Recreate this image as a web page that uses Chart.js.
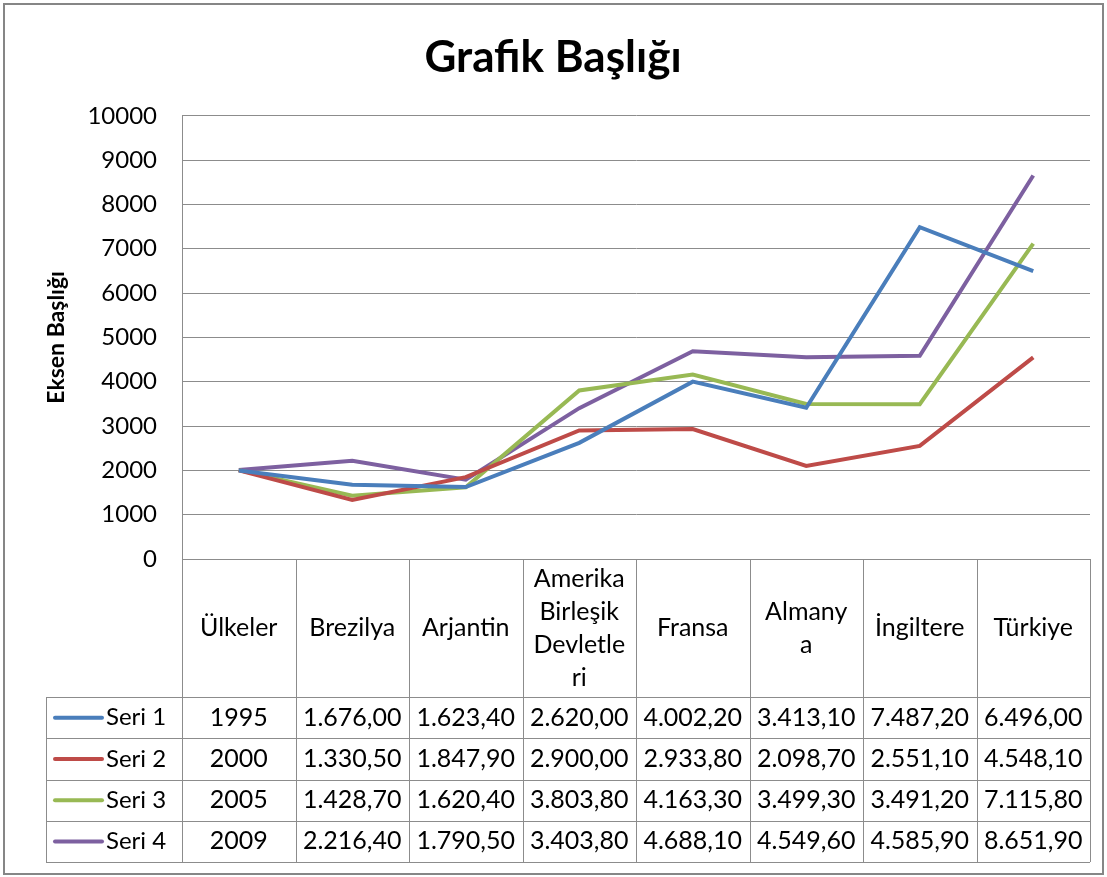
<!DOCTYPE html>
<html>
<head>
<meta charset="utf-8">
<script src="https://cdn.jsdelivr.net/npm/chart.js@4"></script>
<style>
	body { margin: 0; background: #fff; }
</style>
</head>
<body>
<canvas id="myChart" width="1107" height="877"></canvas>
<script>
const categories = ['Ülkeler', 'Brezilya', 'Arjantin', 'Amerika Birleşik Devletleri', 'Fransa', 'Almanya', 'İngiltere', 'Türkiye'];
// header cells wrapped the way the spreadsheet wraps them
const headerLines = [['Ülkeler'], ['Brezilya'], ['Arjantin'], ['Amerika', 'Birleşik', 'Devletle', 'ri'], ['Fransa'], ['Almany', 'a'], ['İngiltere'], ['Türkiye']];
const seriesNames = ['Seri 1', 'Seri 2', 'Seri 3', 'Seri 4'];
const seri1 = [1995, 1676.00, 1623.40, 2620.00, 4002.20, 3413.10, 7487.20, 6496.00];
const seri2 = [2000, 1330.50, 1847.90, 2900.00, 2933.80, 2098.70, 2551.10, 4548.10];
const seri3 = [2005, 1428.70, 1620.40, 3803.80, 4163.30, 3499.30, 3491.20, 7115.80];
const seri4 = [2009, 2216.40, 1790.50, 3403.80, 4688.10, 4549.60, 4585.90, 8651.90];
const allSeries = [seri1, seri2, seri3, seri4];
const colors = ['#4A7EBB', '#BE4B48', '#98B954', '#7D60A0'];
const yMin = 0, yMax = 10000, yStep = 1000;

const FONT = 'Lato';
const gridColor = '#8c8c8c';

function trNum(v, i) {
	if (i === 0) return String(v);
	const parts = v.toFixed(2).split('.');
	return parts[0].replace(/\B(?=(\d{3})+(?!\d))/g, '.') + ',' + parts[1];
}

const frame = {
	id: 'frame',
	beforeDraw(chart) {
		const ctx = chart.ctx;
		ctx.save();
		ctx.fillStyle = '#fff';
		ctx.fillRect(0, 0, chart.width, chart.height);
		ctx.strokeStyle = '#868686';
		ctx.lineWidth = 2;
		ctx.strokeRect(4, 4, 1099, 870);
		ctx.restore();
	}
};

const dataTable = {
	id: 'dataTable',
	afterDraw(chart) {
		const ctx = chart.ctx;
		const xs = chart.scales.x;
		const area = chart.chartArea;
		const colW = (area.right - area.left) / categories.length;
		const top = Math.round(area.bottom);
		const headH = 138;
		const rowH = 41.25;
		const legLeft = 46;
		const bottom = top + headH + rowH * allSeries.length;

		ctx.save();
		ctx.strokeStyle = gridColor;
		ctx.lineWidth = 1;
		ctx.beginPath();
		// vertical lines
		for (let i = 0; i <= categories.length; i++) {
			const x = Math.round(area.left + i * colW) + 0.5;
			ctx.moveTo(x, top);
			ctx.lineTo(x, bottom);
		}
		ctx.moveTo(legLeft + 0.5, top + headH);
		ctx.lineTo(legLeft + 0.5, bottom);
		// horizontal lines
		ctx.moveTo(area.left, top + 0.5);
		ctx.lineTo(area.right, top + 0.5);
		for (let r = 0; r <= allSeries.length; r++) {
			const y = Math.round(top + headH + r * rowH) + 0.5;
			ctx.moveTo(legLeft, y);
			ctx.lineTo(area.right, y);
		}
		ctx.stroke();

		ctx.fillStyle = '#000';
		ctx.textAlign = 'center';
		ctx.textBaseline = 'middle';
		ctx.font = '25px ' + FONT;
		// header
		const lh = 33;
		headerLines.forEach((lines, i) => {
			const cx = xs.getPixelForValue(i);
			const y0 = top + headH / 2 - (lines.length - 1) * lh / 2;
			lines.forEach((t, k) => ctx.fillText(t, cx, y0 + k * lh));
		});
		// rows
		allSeries.forEach((vals, r) => {
			const cy = top + headH + r * rowH + rowH / 2;
			vals.forEach((v, i) => {
				ctx.fillText(trNum(v, i), xs.getPixelForValue(i), cy);
			});
			ctx.strokeStyle = colors[r];
			ctx.lineWidth = 4;
			ctx.lineCap = 'round';
			ctx.beginPath();
			ctx.moveTo(55, cy);
			ctx.lineTo(102, cy);
			ctx.stroke();
			ctx.textAlign = 'left';
			ctx.font = '24px ' + FONT;
			ctx.fillText(seriesNames[r], 106, cy);
			ctx.font = '25px ' + FONT;
			ctx.textAlign = 'center';
		});
		ctx.restore();
	}
};

const ctx = document.getElementById('myChart').getContext('2d');
const myChart = new Chart(ctx, {
	type: 'line',
	data: {
		labels: categories,
		datasets: allSeries.map((vals, i) => ({
			label: seriesNames[i],
			data: vals,
			borderColor: colors[i],
			backgroundColor: colors[i],
			borderWidth: 4,
			pointRadius: 0,
			tension: 0,
			fill: false,
		}))
	},
	options: {
		responsive: false,
		animation: false,
		devicePixelRatio: 1,
		layout: {
			padding: { left: 16, right: 17, top: 0, bottom: 318 }
		},
		plugins: {
			legend: { display: false },
			tooltip: { enabled: false },
			title: {
				display: true,
				text: 'Grafik Başlığı',
				color: '#000',
				font: { family: FONT, size: 44, weight: 'bold' },
				padding: { top: 31, bottom: 32 }
			}
		},
		scales: {
			x: {
				display: false,
				offset: true,
			},
			y: {
				min: yMin,
				max: yMax,
				ticks: {
					stepSize: yStep,
					color: '#000',
					padding: 25,
					font: { family: FONT, size: 24 },
					callback: (v) => String(v)
				},
				grid: {
					color: gridColor,
					drawTicks: false,
				},
				border: { color: gridColor },
				title: {
					display: true,
					text: 'Eksen Başlığı',
					color: '#000',
					font: { family: FONT, size: 23, weight: 'bold' },
					padding: { top: 27 }
				},
				afterFit(scale) {
					scale.width = 166;
				}
			}
		}
	},
	plugins: [frame, dataTable]
});
</script>
</body>
</html>
